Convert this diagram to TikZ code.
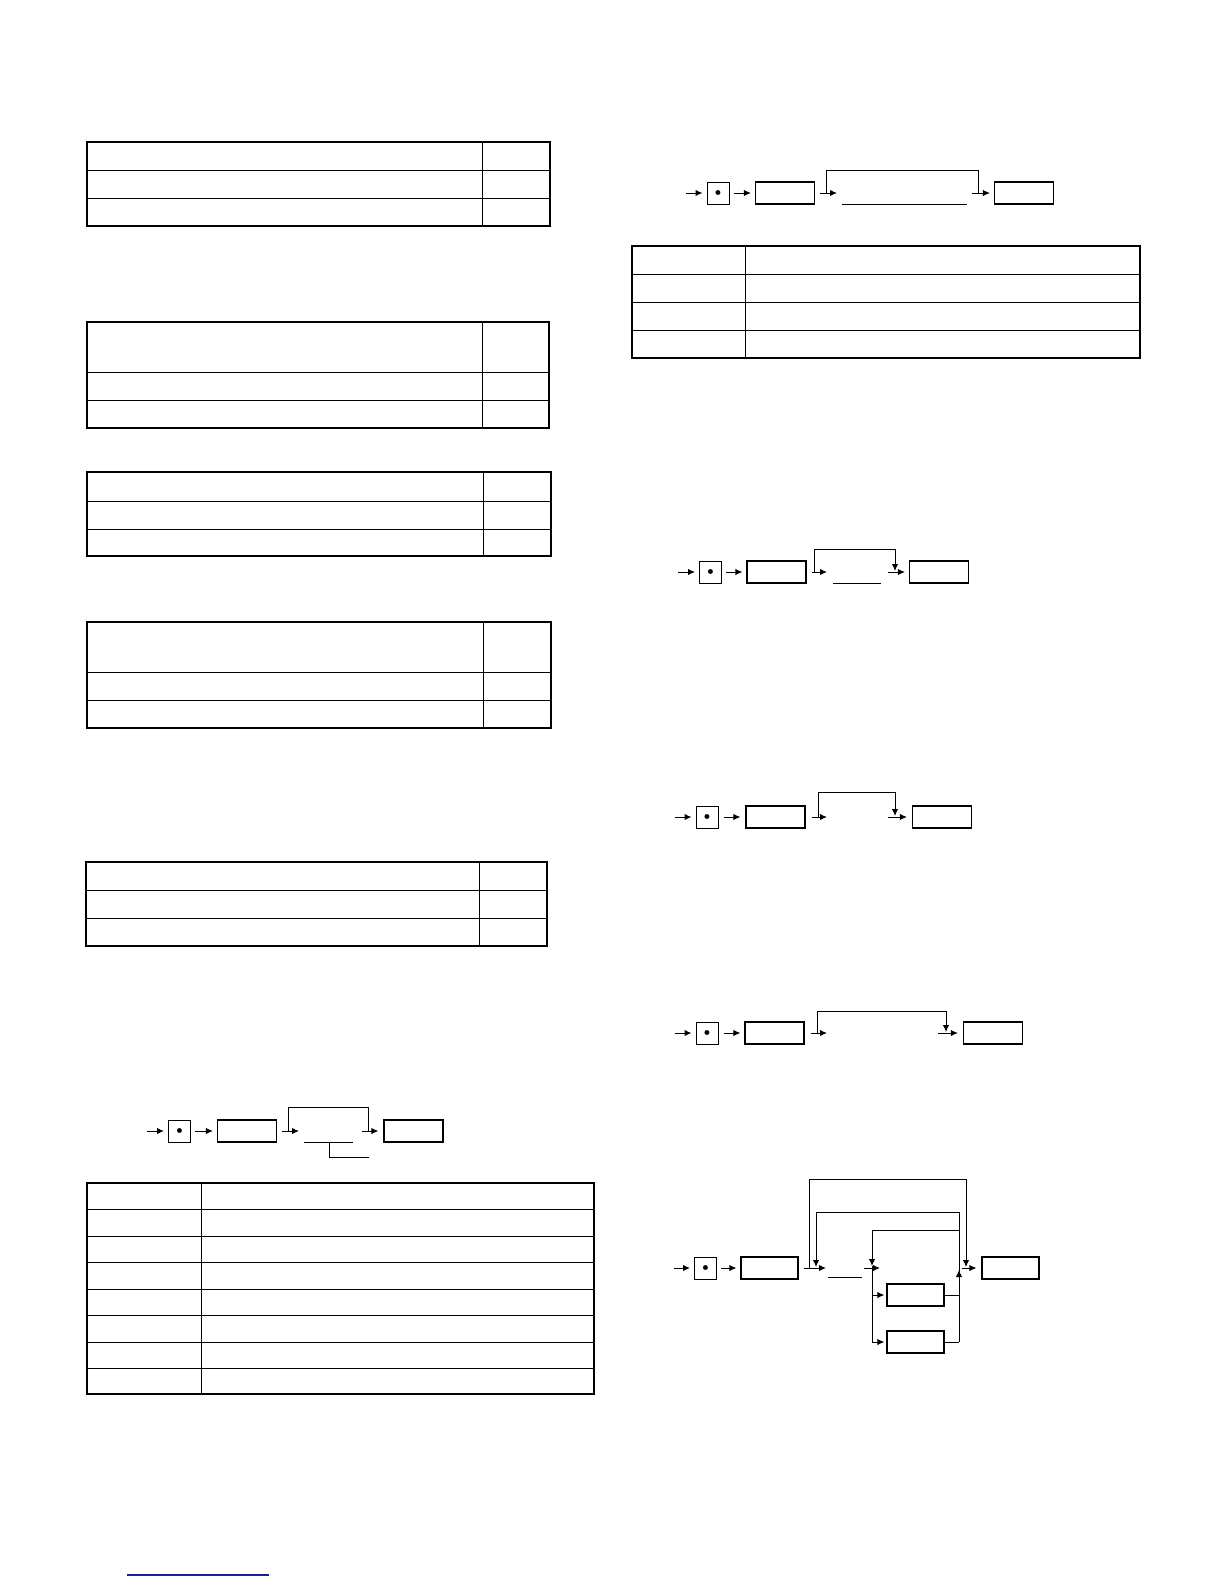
\documentclass[tikz,border=0pt]{standalone}
\usepackage{amsmath, amssymb}
\usepackage{tikz}
\usepackage{xcolor}
\usetikzlibrary{positioning, arrows.meta}

\definecolor{linkblue}{RGB}{30,30,150}

\tikzset{
    keybox/.style={draw, line width=0.5pt, minimum width=11pt, minimum height=11pt, inner sep=0pt, font=\tiny},
    fieldbox/.style={draw, line width=0.6pt, minimum width=29.5pt, minimum height=11pt, inner sep=0pt},
    flow/.style={-{Latex[length=3.5pt,width=3.2pt]}, line width=0.5pt},
    rule/.style={line width=0.5pt},
    frame/.style={line width=1pt}
}

\begin{document}
\begin{tikzpicture}[x=0.5pt, y=-0.5pt] % one unit = one pixel of the page
                        \useasboundingbox (0,0) rectangle (1224,1584);

                        % Tables on the left
                        \draw[frame] (87,142) rectangle (550,226);
                        \foreach \y in {170,198} \draw[rule] (87,\y) -- (550,\y);
                        \draw[rule] (482,142) -- (482,226);

                        \draw[frame] (87,322) rectangle (549,428);
                        \foreach \y in {372,400} \draw[rule] (87,\y) -- (549,\y);
                        \draw[rule] (482,322) -- (482,428);

                        \draw[frame] (87,472) rectangle (551,556);
                        \foreach \y in {501,529} \draw[rule] (87,\y) -- (551,\y);
                        \draw[rule] (483,472) -- (483,556);

                        \draw[frame] (87,622) rectangle (551,728);
                        \foreach \y in {672,700} \draw[rule] (87,\y) -- (551,\y);
                        \draw[rule] (483,622) -- (483,728);

                        \draw[frame] (86,862) rectangle (547,946);
                        \foreach \y in {890,918} \draw[rule] (86,\y) -- (547,\y);
                        \draw[rule] (479,862) -- (479,946);

                        \draw[rule, line width=0.6pt] (87,1183) rectangle (594,1394);
                        \foreach \y in {1209,1236,1262,1289,1315,1342,1368} \draw[rule] (87,\y) -- (594,\y);
                        \draw[rule] (201,1183) -- (201,1394);

                        % Table on the right
                        \draw[frame] (632,246) rectangle (1140,358);
                        \foreach \y in {274,302,330} \draw[rule] (632,\y) -- (1140,\y);
                        \draw[rule] (745,246) -- (745,358);

                        % Sequence A
                        \coordinate (a0) at (686,193);
                        \node[keybox] (a1) at (718,193) {$\bullet$};
                        \node[fieldbox] (a2) at (785,193) {};
                        \coordinate (a4) at (837,193);
                        \coordinate (a5) at (826,193);
                        \coordinate (a7) at (978,193);
                        \coordinate (a6) at (972,193);
                        \node[fieldbox] (a3) at (1024,193) {};
                        \draw[flow, shorten >=2pt] (a0) -- (a1);
                        \draw[flow, shorten <=2pt, shorten >=2pt] (a1) -- (a2);
                        \draw[flow, shorten <=2.5pt] (a2) -- (a4);
                        \draw[rule] (a5) -- ++(0,-23) -| (a7);
                        \draw[flow, shorten >=2pt] (a6) -- (a3);
                        \draw[rule] (842,204) -- (967,204);

                        % Sequence B
                        \coordinate (b0) at (147,1131);
                        \node[keybox] (b1) at (179.5,1131) {$\bullet$};
                        \node[fieldbox] (b2) at (247,1131) {};
                        \coordinate (b4) at (299,1131);
                        \coordinate (b5) at (288,1131);
                        \coordinate (b7) at (368,1131);
                        \coordinate (b6) at (362,1131);
                        \node[fieldbox] (b3) at (413.5,1131) {};
                        \draw[flow, shorten >=2pt] (b0) -- (b1);
                        \draw[flow, shorten <=2pt, shorten >=2pt] (b1) -- (b2);
                        \draw[flow, shorten <=2.5pt] (b2) -- (b4);
                        \draw[rule] (b5) -- ++(0,-24) -| (b7);
                        \draw[flow, shorten >=2.5pt] (b6) -- (b3);
                        \draw[rule] (304,1142) -- (353,1142);
                        \draw[rule] (329,1142) |- (369,1157);

                        % Sequence C
                        \coordinate (c0) at (678,572);
                        \node[keybox] (c1) at (710.5,572) {$\bullet$};
                        \node[fieldbox] (c2) at (776.5,572) {};
                        \coordinate (c4) at (827,572);
                        \coordinate (c5) at (814,572);
                        \coordinate (c7) at (895,571);
                        \coordinate (c6) at (888,572);
                        \node[fieldbox] (c3) at (939,572) {};
                        \draw[flow, shorten >=2pt] (c0) -- (c1);
                        \draw[flow, shorten <=2pt, shorten >=2pt] (c1) -- (c2);
                        \draw[flow, shorten <=2.5pt] (c2) -- (c4);
                        \draw[flow] (c5) -- ++(0,-23) -| (c7);
                        \draw[flow, shorten >=2pt] (c6) -- (c3);
                        \draw[rule] (833,583) -- (881,583);

                        % Sequence D
                        \coordinate (d0) at (675,817);
                        \node[keybox] (d1) at (707,817) {$\bullet$};
                        \node[fieldbox] (d2) at (775.5,817) {};
                        \coordinate (d4) at (827,817);
                        \coordinate (d5) at (818,817);
                        \coordinate (d7) at (895,816);
                        \coordinate (d6) at (888,817);
                        \node[fieldbox] (d3) at (942,817) {};
                        \draw[flow, shorten >=2pt] (d0) -- (d1);
                        \draw[flow, shorten <=2.5pt, shorten >=2.5pt] (d1) -- (d2);
                        \draw[flow, shorten <=3pt] (d2) -- (d4);
                        \draw[flow] (d5) -- ++(0,-25) -| (d7);
                        \draw[flow, shorten >=2.5pt] (d6) -- (d3);

                        % Sequence E
                        \coordinate (e0) at (675,1033);
                        \node[keybox] (e1) at (707,1033) {$\bullet$};
                        \node[fieldbox] (e2) at (774.5,1033) {};
                        \coordinate (e4) at (827,1033);
                        \coordinate (e5) at (817,1033);
                        \coordinate (e7) at (946,1032);
                        \coordinate (e6) at (938,1033);
                        \node[fieldbox] (e3) at (993,1033) {};
                        \draw[flow, shorten >=2pt] (e0) -- (e1);
                        \draw[flow, shorten <=2.5pt, shorten >=2pt] (e1) -- (e2);
                        \draw[flow, shorten <=3pt] (e2) -- (e4);
                        \draw[flow] (e5) -- ++(0,-22) -| (e7);
                        \draw[flow, shorten >=2.5pt] (e6) -- (e3);

                        % Sequence F with the two optional fields
                        \coordinate (f0) at (674,1268);
                        \node[keybox] (f1) at (705.5,1268) {$\bullet$};
                        \node[fieldbox, minimum width=28.5pt] (f2) at (769.5,1268) {};
                        \coordinate (f4) at (826,1268);
                        \coordinate (f5) at (809,1268);
                        \coordinate (f9) at (966,1267);
                        \coordinate (f7) at (864,1268);
                        \coordinate (f8) at (880,1268);
                        \coordinate (f6) at (962,1268);
                        \node[fieldbox, minimum width=28.5pt] (f3) at (1010.5,1268) {};
                        \node[fieldbox, minimum width=28.5pt] (g1) at (915.5,1295) {};
                        \node[fieldbox, minimum width=28.5pt] (g2) at (915.5,1342) {};
                        \coordinate (h1) at (959,1342);
                        \coordinate (h2) at (959,1295);
                        \coordinate (h3) at (816,1267);
                        \coordinate (h4) at (872,1342);
                        \coordinate (h5) at (872,1266);
                        \coordinate (h6) at (872,1295);

                        \draw[flow, shorten >=2pt] (f0) -- (f1);
                        \draw[flow, shorten <=2pt, shorten >=2pt] (f1) -- (f2);
                        \draw[flow, shorten <=2.5pt] (f2) -- (f4);
                        \draw[flow] (f5) -- ++(0,-89) -| (f9);
                        \draw[flow] (h1) -- ++(0,-130) -| (h3);
                        \draw[flow] (h1) ++(0,-112) -| (h5);
                        \draw[rule] (h5) -- (h4);
                        \draw[flow] (f7) -- (f8);
                        \draw[flow, shorten >=1pt] (h6) -- (g1);
                        \draw[flow, shorten >=1pt] (h4) -- (g2);
                        \draw[rule] (g1) -- (h2);
                        \draw[rule] (g2) -- (h1);
                        \draw[flow] (h2) -- ++(0,-25);
                        \draw[flow, shorten >=2.5pt] (f6) -- (f3);
                        \draw[rule] (828,1277) -- (862,1277);

                        % Link rule at the foot of the page
                        \draw[linkblue, line width=0.8pt] (127,1575) -- (269,1575);

                    \end{tikzpicture}
\end{document}
